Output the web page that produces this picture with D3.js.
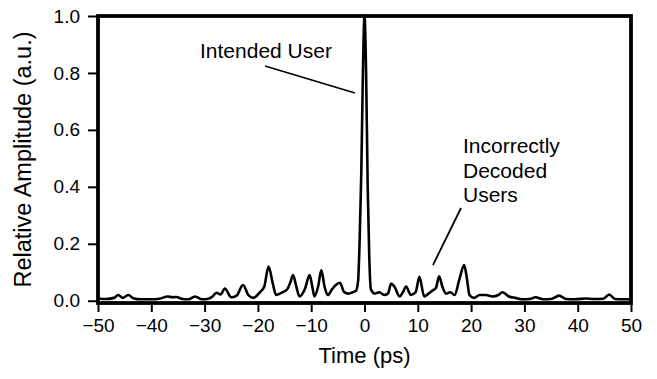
<!DOCTYPE html>
<html>
<head>
<meta charset="utf-8">
<script src="https://cdn.jsdelivr.net/npm/d3@7"></script>
<style>
  body { margin: 0; background: #fff; }
  text { font-family: "Liberation Sans", Arial, sans-serif; fill: #000; }
</style>
</head>
<body>
<div id="vis-container"></div>
<script>
const width = 657,
    height = 379;

// time axis (ps) and relative amplitude
var timePs = [-50, -48.5, -47, -46.2, -45.4, -44.3, -43.4, -42, -40, -38.5, -36.9, -36, -35.3, -34.2, -33, -31.8, -30.5, -29.5,
    -28.5, -27.8, -27, -26.2, -25, -24, -22.8, -21.8, -20.9, -19.6, -18.8, -18, -17.2, -16.6, -15.9, -15.3, -14.5, -13.9, -13.4, -12.8, -12.2,
    -11.2, -10.3, -9.8, -9.4, -8.7, -8.1, -7.5, -6.9, -6.1, -5.4, -4.6, -3.8, -3, -2.2, -1.6, -1.2, -0.9, -0.6, -0.3, 0,
    0.3, 0.6, 0.9, 1.2, 1.9, 2.8, 3.7, 4.4, 5, 5.6, 6.6, 7.2, 7.8, 8.7, 9.6, 10.3, 11.2, 12, 12.7, 13.4, 14, 14.6, 15.3,
    16.1, 16.9, 17.8, 18.7, 19.2, 19.7, 20.5, 21.6, 22.8, 24, 25.1, 25.9, 27.1, 28.3, 29.6, 31, 32.1, 33.5, 35, 36.5, 37.8,
    39.5, 41.5, 43, 44.8, 45.9, 47, 48.5, 50];
var amplitude = [0.008, 0.006, 0.01, 0.02, 0.01, 0.02, 0.009, 0.005, 0.005, 0.007, 0.015, 0.012, 0.013, 0.006, 0.005, 0.015, 0.005, 0.006,
    0.015, 0.028, 0.022, 0.043, 0.012, 0.018, 0.055, 0.02, 0.01, 0.03, 0.05, 0.12, 0.06, 0.02, 0.025, 0.03, 0.04, 0.065, 0.09, 0.05, 0.015,
    0.04, 0.09, 0.05, 0.015, 0.05, 0.107, 0.05, 0.02, 0.04, 0.055, 0.063, 0.03, 0.025, 0.03, 0.035, 0.07, 0.22, 0.45, 0.8, 1.0,
    0.8, 0.4, 0.15, 0.04, 0.025, 0.03, 0.02, 0.025, 0.06, 0.05, 0.015, 0.03, 0.05, 0.02, 0.03, 0.084, 0.015, 0.025, 0.035, 0.045, 0.086, 0.05, 0.025,
    0.03, 0.02, 0.075, 0.125, 0.08, 0.02, 0.01, 0.02, 0.02, 0.015, 0.02, 0.03, 0.015, 0.01, 0.005, 0.006, 0.012, 0.005, 0.006, 0.018, 0.006,
    0.005, 0.008, 0.006, 0.007, 0.022, 0.006, 0.005, 0.005];
var xTicks = [-50, -40, -30, -20, -10, 0, 10, 20, 30, 40, 50];
var yTicks = [0, 0.2, 0.4, 0.6, 0.8, 1.0];

var margin = {left: 98, right: 26, top: 16, bottom: 76};

var x = d3.scaleLinear()
    .domain([-50, 50])
    .range([margin.left, width - margin.right]);

var y = d3.scaleLinear()
    .domain([-0.008, 1])
    .range([height - margin.bottom, margin.top]);

var svg = d3.select("#vis-container").append("svg")
    .attr("width", width)
    .attr("height", height);

// axes
svg.append("g")
    .attr("transform", "translate(0," + (height - margin.bottom) + ")")
    .call(d3.axisBottom(x).tickValues(xTicks).tickSize(9).tickPadding(7).tickFormat(d3.format("d")));

svg.append("g")
    .attr("transform", "translate(" + margin.left + ",0)")
    .call(d3.axisLeft(y).tickValues(yTicks).tickSize(10).tickPadding(8).tickFormat(d3.format(".1f")));

svg.selectAll(".domain").remove();
svg.selectAll(".tick line").attr("stroke", "#000").attr("stroke-width", 2);
svg.selectAll(".tick text").attr("font-size", 19)
    .attr("font-family", "Liberation Sans, Arial, sans-serif");

// the trace
var line = d3.line()
    .x(function(d, i) { return x(timePs[i]); })
    .y(function(d) { return y(d); })
    .curve(d3.curveMonotoneX);

svg.append("path")
    .datum(amplitude)
    .attr("d", line)
    .attr("fill", "none")
    .attr("stroke", "#000")
    .attr("stroke-width", 2.6)
    .attr("stroke-linejoin", "round");

// frame
svg.append("rect")
    .attr("x", margin.left)
    .attr("y", margin.top)
    .attr("width", width - margin.left - margin.right)
    .attr("height", height - margin.top - margin.bottom)
    .attr("fill", "none")
    .attr("stroke", "#000")
    .attr("stroke-width", 3.8);

// titles
svg.append("text")
    .attr("x", (margin.left + width - margin.right) / 2)
    .attr("y", 363)
    .attr("text-anchor", "middle")
    .attr("font-size", 22)
    .text("Time (ps)");

svg.append("text")
    .attr("transform", "translate(31," + ((margin.top + height - margin.bottom) / 2) + ") rotate(-90)")
    .attr("text-anchor", "middle")
    .attr("font-size", 23.5)
    .text("Relative Amplitude (a.u.)");

// annotations
svg.append("text")
    .attr("x", 200)
    .attr("y", 58)
    .attr("font-size", 21)
    .text("Intended User");

svg.append("line")
    .attr("x1", 265).attr("y1", 66)
    .attr("x2", 355).attr("y2", 93)
    .attr("stroke", "#000")
    .attr("stroke-width", 1.8);

var notes = ["Incorrectly", "Decoded", "Users"];
svg.selectAll(".note")
    .data(notes)
    .enter().append("text")
    .attr("class", "note")
    .attr("x", 463)
    .attr("y", function(d, i) { return 153 + i * 24.5; })
    .attr("font-size", 21)
    .text(function(d) { return d; });

svg.append("line")
    .attr("x1", 461).attr("y1", 208)
    .attr("x2", 433).attr("y2", 265)
    .attr("stroke", "#000")
    .attr("stroke-width", 1.8);
</script>
</body>
</html>
